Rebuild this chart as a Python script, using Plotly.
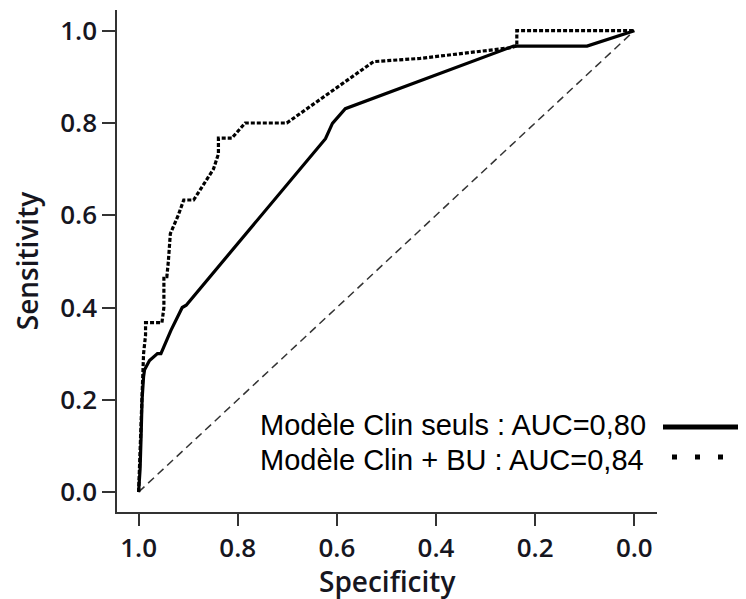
import plotly.graph_objects as go

# ROC curve data (specificity, sensitivity)
clin_spec = [1.0, 0.997, 0.995, 0.993, 0.990, 0.988, 0.978, 0.962, 0.955, 0.935, 0.912, 0.904,
             0.623, 0.609, 0.583, 0.2435, 0.0954, 0.0]
clin_sens = [0.0, 0.05, 0.12, 0.20, 0.25, 0.265, 0.285, 0.300, 0.300, 0.350, 0.400, 0.405,
             0.766, 0.799, 0.831, 0.9667, 0.9667, 1.0]

bu_spec = [1.0, 0.997, 0.993, 0.990, 0.986, 0.986, 0.953, 0.949, 0.949, 0.943, 0.940, 0.936,
           0.920, 0.909, 0.889, 0.857, 0.849, 0.839, 0.839, 0.812, 0.785, 0.701, 0.526,
           0.432, 0.250, 0.237, 0.237, 0.0]
bu_sens = [0.0, 0.10, 0.20, 0.30, 0.340, 0.367, 0.367, 0.40, 0.467, 0.467, 0.50, 0.560,
           0.600, 0.633, 0.633, 0.685, 0.700, 0.733, 0.767, 0.767, 0.800, 0.800, 0.933,
           0.940, 0.963, 0.967, 1.0, 1.0]

diag_spec = [1.0, 0.0]
diag_sens = [0.0, 1.0]

x_ticks = [1.0, 0.8, 0.6, 0.4, 0.2, 0.0]
x_tick_labels = ["1.0", "0.8", "0.6", "0.4", "0.2", "0.0"]
y_ticks = [0.0, 0.2, 0.4, 0.6, 0.8, 1.0]
y_tick_labels = ["0.0", "0.2", "0.4", "0.6", "0.8", "1.0"]

x_title = "Specificity"
y_title = "Sensitivity"
legend_labels = ["Modèle Clin seuls : AUC=0,80", "Modèle Clin + BU : AUC=0,84"]

fig = go.Figure()
fig.add_trace(go.Scatter(x=diag_spec, y=diag_sens, mode="lines",
                         line=dict(color="#333333", width=1.5, dash="8px,5px"),
                         showlegend=False, hoverinfo="skip"))
fig.add_trace(go.Scatter(x=clin_spec, y=clin_sens, mode="lines",
                         line=dict(color="#000000", width=3.2),
                         name=legend_labels[0], showlegend=False))
fig.add_trace(go.Scatter(x=bu_spec, y=bu_sens, mode="lines",
                         line=dict(color="#000000", width=3.2, dash="4px,2px"),
                         name=legend_labels[1], showlegend=False))

tick_font = dict(family="Open Sans", size=26, color="#16161f", weight=600)
title_font = dict(family="Open Sans", size=28, color="#16161f", weight=600)

fig.update_xaxes(range=[1.0436, -0.0458], tickvals=x_ticks, ticktext=x_tick_labels,
                 showline=True, linecolor="#333333", linewidth=1.5, automargin=False,
                 ticks="outside", ticklen=12, tickwidth=1.5, tickcolor="#333333",
                 showgrid=False, zeroline=False, tickfont=tick_font)
fig.update_yaxes(range=[-0.0433, 1.0449], tickvals=y_ticks, ticktext=y_tick_labels,
                 showline=True, linecolor="#333333", linewidth=1.5, automargin=False,
                 ticks="outside", ticklen=13, tickwidth=1.5, tickcolor="#333333",
                 showgrid=False, zeroline=False, tickfont=tick_font,
                 title=dict(text=y_title, font=title_font, standoff=21))

# page body adds an 8px offset; compensate in the margins
OFF = 8
W, H = 746, 599
L, T = 109, 2
pw, ph = 540, 502
R, B = W - L - pw, H - T - ph


def px_x(p):
    return (p - OFF - L) / pw


def px_y(p):
    return (T + ph - (p - OFF)) / ph


fig.add_annotation(x=0.5, y=px_y(581), xref="paper", yref="paper", text=x_title,
                   showarrow=False, xanchor="center", yanchor="middle", font=title_font)

leg_font = dict(family="Liberation Sans, Arial", size=29, color="#000000")
fig.add_annotation(x=px_x(258), y=px_y(425), xref="paper", yref="paper", text=legend_labels[0],
                   showarrow=False, xanchor="left", yanchor="middle", font=leg_font)
fig.add_annotation(x=px_x(258), y=px_y(460), xref="paper", yref="paper", text=legend_labels[1],
                   showarrow=False, xanchor="left", yanchor="middle", font=leg_font)
fig.add_shape(type="line", xref="paper", yref="paper", x0=px_x(663), x1=px_x(760),
              y0=px_y(427), y1=px_y(427), line=dict(color="#000000", width=5))
fig.add_shape(type="line", xref="paper", yref="paper", x0=px_x(672), x1=px_x(760),
              y0=px_y(457), y1=px_y(457), line=dict(color="#000000", width=5, dash="5px,18px"))

fig.update_layout(width=W, height=H, margin=dict(l=L, r=R, t=T, b=B),
                  paper_bgcolor="white", plot_bgcolor="white", showlegend=False)

fig.write_html("out.html")
